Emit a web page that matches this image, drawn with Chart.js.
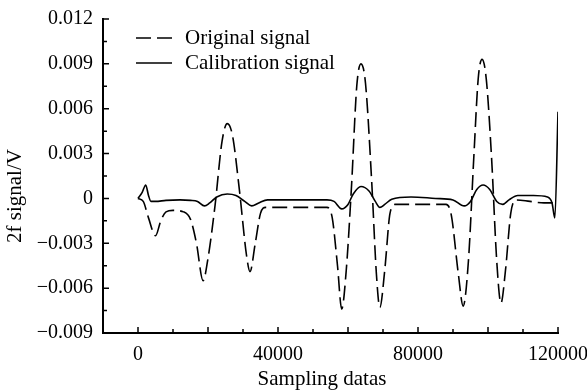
<!DOCTYPE html>
<html>
<head>
<meta charset="utf-8">
<script src="https://cdn.jsdelivr.net/npm/chart.js@4"></script>
<style>
  html, body { margin: 0; padding: 0; background: #fff; }
  canvas { display: block; }
</style>
</head>
<body>
<canvas id="sig" width="587" height="392"></canvas>
<script>
// original signal (dashed)
const origX = [0, 1500, 3000, 5000, 6500, 8000, 10000, 13000, 15000, 16700, 18600, 20000, 22000, 24000, 25500, 27000, 29000, 31000, 32000, 33500, 35000, 36500, 45000, 54000, 55500, 57000, 58200, 59500, 61000, 62500, 63700, 65000, 66800, 68100, 69100, 70500, 72000, 73500, 80000, 88000, 89500, 91500, 92900, 94400, 96000, 97200, 98300, 99500, 101000, 102500, 103700, 105000, 106500, 108000, 112000, 116000, 118500];
const origY = [0, -0.0002, -0.0013, -0.0025, -0.0015, -0.0009, -0.0008, -0.0009, -0.0014, -0.0030, -0.0055, -0.0040, -0.0005, 0.0038, 0.0050, 0.0042, 0.0005, -0.0038, -0.0049, -0.0030, -0.0010, -0.0006, -0.0006, -0.0006, -0.0013, -0.0045, -0.0074, -0.0048, 0.0008, 0.0075, 0.0090, 0.0077, 0.0010, -0.0050, -0.0073, -0.0048, -0.0010, -0.0004, -0.0004, -0.0004, -0.0011, -0.0050, -0.0072, -0.0042, 0.0030, 0.0080, 0.0093, 0.0080, 0.0028, -0.0042, -0.0070, -0.0048, -0.0010, -0.0001, -0.0002, -0.0003, -0.0003];

// calibration signal (solid)
const calX = [0, 1200, 2200, 3000, 3700, 5000, 8000, 12000, 15000, 17000, 19000, 20500, 22500, 25500, 28000, 30500, 32500, 34500, 37000, 45000, 54000, 56000, 58200, 60000, 61500, 63700, 66000, 67800, 69100, 70500, 72500, 78000, 85000, 90000, 93200, 95000, 96800, 98600, 100500, 102500, 104200, 106000, 108500, 113000, 117000, 118300, 119100, 120000];
const calY = [0, 0.0004, 0.0009, 0.0002, -0.0002, -0.0002, -0.00013, -0.0001, -0.00013, -0.0002, -0.0005, -0.0003, 0.0001, 0.0003, 0.0002, -0.0002, -0.0005, -0.0003, -0.0001, -0.0001, -0.0001, -0.0002, -0.0007, -0.0004, 0.0003, 0.0008, 0.0005, -0.0002, -0.0006, -0.0004, -0.00005, 0.0001, 0.0, -0.0001, -0.0005, -0.0002, 0.0006, 0.0009, 0.0006, -0.0002, -0.0004, -0.0001, 0.0002, 0.0002, 0.0001, -0.0003, -0.0013, 0.0058];

const xTicks = [0, 40000, 80000, 120000];
const xMajor = [0, 20000, 40000, 60000, 80000, 100000, 120000];
const xMinor = [10000, 30000, 50000, 70000, 90000, 110000];
const yTicks = [-0.009, -0.006, -0.003, 0, 0.003, 0.006, 0.009, 0.012];
const yMinor = [-0.0075, -0.0045, -0.0015, 0.0015, 0.0045, 0.0075, 0.0105];

const FONT = 'Liberation Serif, Times New Roman, serif';
const pts = (xs, ys) => xs.map((x, i) => ({ x: x, y: ys[i] }));
const fmtY = v => {
  if (Math.abs(v) < 1e-9) return '0';
  return (v < 0 ? '\u2212' : '') + Math.abs(v).toFixed(3);
};

// inward ticks, axis titles and the legend
const frame = {
  id: 'frame',
  afterDraw(chart) {
    const c = chart.ctx;
    const xs = chart.scales.x, ys = chart.scales.y;
    const area = chart.chartArea;
    c.save();
    c.strokeStyle = '#000';
    c.lineWidth = 1.5;
    c.beginPath();
    xMajor.forEach(v => { const p = xs.getPixelForValue(v); c.moveTo(p, area.bottom); c.lineTo(p, area.bottom - 6); });
    xMinor.forEach(v => { const p = xs.getPixelForValue(v); c.moveTo(p, area.bottom); c.lineTo(p, area.bottom - 4); });
    yTicks.forEach(v => { const p = ys.getPixelForValue(v); c.moveTo(area.left, p); c.lineTo(area.left + 6, p); });
    yMinor.forEach(v => { const p = ys.getPixelForValue(v); c.moveTo(area.left, p); c.lineTo(area.left + 4, p); });
    c.stroke();

    c.fillStyle = '#000';
    c.font = '21px ' + FONT;
    c.textAlign = 'center';
    c.textBaseline = 'middle';
    c.fillText('Sampling datas', 322, 379);
    c.save();
    c.translate(15, 196);
    c.rotate(-Math.PI / 2);
    c.fillText('2f signal/V', 0, 0);
    c.restore();

    // legend
    c.textAlign = 'left';
    chart.data.datasets.forEach((ds, i) => {
      const y = 38 + i * 25;
      c.beginPath();
      c.setLineDash(ds.borderDash || []);
      c.lineWidth = ds.borderWidth;
      c.moveTo(136, y);
      c.lineTo(172, y);
      c.stroke();
      c.setLineDash([]);
      c.fillText(ds.label, 185, y);
    });
    c.restore();
  }
};

new Chart(document.getElementById('sig'), {
  type: 'line',
  data: {
    datasets: [
      { label: 'Original signal', data: pts(origX, origY), borderColor: '#000', borderWidth: 1.6, borderDash: [15, 6] },
      { label: 'Calibration signal', data: pts(calX, calY), borderColor: '#000', borderWidth: 1.6 }
    ]
  },
  options: {
    responsive: false,
    animation: false,
    devicePixelRatio: 1,
    layout: { padding: { left: 0, right: 29, top: 19, bottom: 0 } },
    elements: {
      point: { radius: 0 },
      line: { cubicInterpolationMode: 'monotone', fill: false }
    },
    plugins: { legend: { display: false }, tooltip: { enabled: false } },
    scales: {
      x: {
        type: 'linear',
        min: -10000,
        max: 120000,
        grid: { display: false, drawTicks: false },
        border: { display: true, color: '#000', width: 2 },
        afterBuildTicks: s => { s.ticks = xTicks.map(v => ({ value: v })); },
        afterFit: s => { s.height = 59; s.paddingLeft = 0; s.paddingRight = 0; },
        ticks: {
          color: '#000',
          padding: 10,
          maxRotation: 0,
          font: { family: FONT, size: 20 },
          callback: v => String(v)
        }
      },
      y: {
        min: -0.009,
        max: 0.012,
        grid: { display: false, drawTicks: false },
        border: { display: true, color: '#000', width: 2 },
        afterBuildTicks: s => { s.ticks = yTicks.map(v => ({ value: v })); },
        afterFit: s => { s.width = 103; s.paddingTop = 0; s.paddingBottom = 0; },
        ticks: {
          color: '#000',
          padding: 10,
          font: { family: FONT, size: 20 },
          callback: v => fmtY(v)
        }
      }
    }
  },
  plugins: [frame]
});
</script>
</body>
</html>
